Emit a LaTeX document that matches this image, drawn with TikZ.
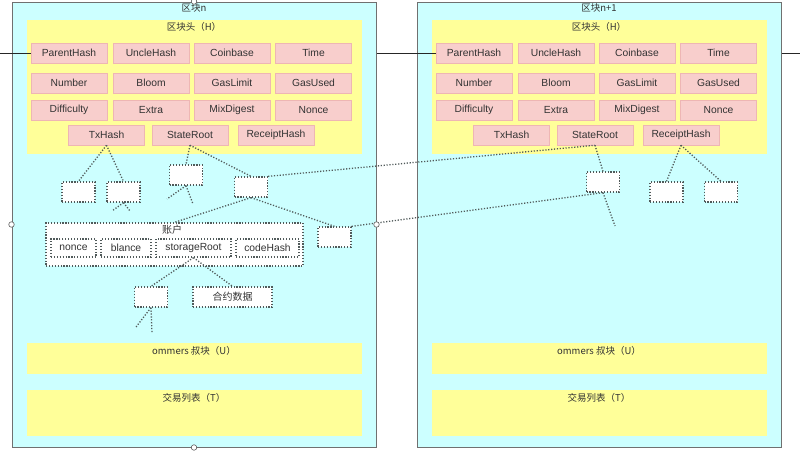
\documentclass[tikz,border=0pt]{standalone}
\usepackage{fontspec}
\setmainfont{Liberation Sans}
\newfontfamily\cjk{Noto Sans CJK SC}
\definecolor{cyanbg}{HTML}{CCFFFF}
\definecolor{ylwbg}{HTML}{FFFF99}
\definecolor{pinkbg}{HTML}{F8CECC}
\definecolor{pinkbd}{HTML}{EEB6B4}
\definecolor{blkgray}{HTML}{707070}
\definecolor{dotc}{HTML}{505A5A}
\definecolor{txt}{HTML}{333333}
\begin{document}
\begin{tikzpicture}[x=1pt,y=-1pt,
  blk/.style={draw=blkgray, line width=1pt, fill=cyanbg, minimum width=364pt, minimum height=445pt, inner sep=0pt},
  ylw/.style={fill=ylwbg, inner sep=0pt, minimum width=335pt},
  pk/.style={fill=pinkbg, draw=pinkbd, line width=0.5pt, minimum width=76pt, minimum height=20pt, inner sep=0pt, font=\fontsize{10.3}{12}\selectfont, text=txt},
  lbl/.style={font=\cjk\fontsize{9.5}{11}\selectfont, text=txt, inner sep=0pt},
  dbox/.style={draw=dotc, fill=white, line width=1.3pt, dash pattern=on 1.2pt off 1.7pt, minimum width=33pt, minimum height=20pt, inner sep=0pt, font=\fontsize{10.3}{12}\selectfont, text=txt},
  dline/.style={draw=dotc, line width=1.3pt, dash pattern=on 1.2pt off 1.7pt},
  solid line/.style={draw=black!85, line width=0.9pt},
  handle/.style={circle, draw=blkgray!80!black, fill=white, line width=0.6pt, minimum size=5.5pt, inner sep=0pt}
]
\useasboundingbox (0,0) rectangle (800,450);
\fill[white] (0,0) rectangle (800,450);

\foreach \s/\dx/\t in {L/0/区块n, R/405/区块n+1}{
\begin{scope}[xshift=\dx pt]
  \node[blk] (blk\s) at (194,224.5) {};
  \node[lbl] (ttl\s) at (194,8) {\t};
  \node[ylw, minimum height=134pt] (hdr\s) at (194.5,87) {};
  \node[lbl] (hdt\s) at (194,27) {区块头（H）};
  \node[pk] (ph\s) at (69,53) {ParentHash};
  \node[pk] (uh\s) at (151,53) {UncleHash};
  \node[pk] (cb\s) at (232,53) {Coinbase};
  \node[pk] (tm\s) at (313.5,53) {Time};
  \node[pk] (nb\s) at (69,83) {Number};
  \node[pk] (bl\s) at (151,83) {Bloom};
  \node[pk] (gl\s) at (232,83) {GasLimit};
  \node[pk] (gu\s) at (313.5,83) {GasUsed};
  \node[pk] (df\s) at (69,110) {Difficulty};
  \node[pk] (ex\s) at (151,110) {Extra};
  \node[pk] (md\s) at (232,110) {MixDigest};
  \node[pk] (nc\s) at (313.5,110) {Nonce};
  \node[pk] (tx\s) at (106.5,135) {TxHash};
  \node[pk] (sr\s) at (190,135) {StateRoot};
  \node[pk] (rh\s) at (276,135) {ReceiptHash};
  \node[ylw, minimum height=31pt] (unc\s) at (194.5,358.5) {};
  \node[lbl] (unt\s) at (194,351) {ommers 叔块（U）};
  \node[ylw, minimum height=46pt] (tl\s) at (194.5,413) {};
  \node[lbl] (tlt\s) at (194,398) {交易列表（T）};
\end{scope}}

% solid links between blocks
\coordinate (lfree) at (0,53);
\coordinate (rfree) at (800,53);
\draw[solid line] (lfree) -- (phL.west);
\draw[solid line] (blkL.east |- phR.west) -- (phR.west);
\draw[solid line] (blkR.east |- rfree) -- (rfree);

% free ends of dotted connectors
\coordinate (b1) at (112,211);
\coordinate (b2) at (130,211);
\coordinate (c1) at (167,199);
\coordinate (c2) at (193,204);
\coordinate (f1) at (136,327);
\coordinate (f2) at (152,333);
\coordinate (g1) at (615,226);

\node[dbox] (A) at (78.5,192) {};
\node[dbox] (B) at (123.5,192) {};
\node[dbox] (C) at (186,175) {};
\node[dbox] (D) at (251,187) {};
\node[dbox] (E) at (334.5,237) {};
\node[dbox, minimum width=257pt, minimum height=43pt] (acct) at (174.5,244.5) {};
\node[lbl, font=\cjk\fontsize{10}{12}\selectfont] (acctl) at (172,230) {账户};
\node[dbox, minimum width=45pt, minimum height=18pt] (nonce) at (73.5,248) {nonce};
\node[dbox, minimum width=50pt, minimum height=18pt] (blance) at (126,248) {blance};
\node[dbox, minimum width=75pt, minimum height=18pt] (stroot) at (193.5,248) {storageRoot};
\node[dbox, minimum width=63pt, minimum height=18pt] (chash) at (267.5,248) {codeHash};
\node[dbox] (F) at (151,297) {};
\node[dbox, minimum width=79pt, font=\cjk\fontsize{10}{12}\selectfont] (K) at (232.5,297) {合约数据};
\node[dbox] (G) at (603,182) {};
\node[dbox] (H) at (666.5,192) {};
\node[dbox] (I) at (721,192) {};

% dotted connectors
\draw[dline] (txL.south) -- (A.north);
\draw[dline] (txL.south) -- (B.north);
\draw[dline] (B.south) -- (b1);
\draw[dline] (B.south) -- (b2);
\draw[dline] (srL.south) -- (C.north);
\draw[dline] (srL.south) -- (D.north);
\draw[dline] (C.south) -- (c1);
\draw[dline] (C.south) -- (c2);
\draw[dline] (D.north east) -- (srR.south);
\draw[dline] (D.south) -- (acct.north);
\draw[dline] (D.south) -- (E.north);
\draw[dline] (E.north east) -- (G.south);
\draw[dline] (stroot.south) -- (F.north);
\draw[dline] (stroot.south) -- (K.north);
\draw[dline] (F.south) -- (f1);
\draw[dline] (F.south) -- (f2);
\draw[dline] (srR.south) -- (G.north);
\draw[dline] (G.south) -- (g1);
\draw[dline] (rhR.south) -- (H.north);
\draw[dline] (rhR.south) -- (I.north);

% selection handles
\node[handle] (h1) at (blkL.north) {};
\node[handle] (h2) at (blkL.west) {};
\node[handle] (h3) at (blkL.east) {};
\node[handle] (h4) at (blkL.south) {};
\end{tikzpicture}
\end{document}
